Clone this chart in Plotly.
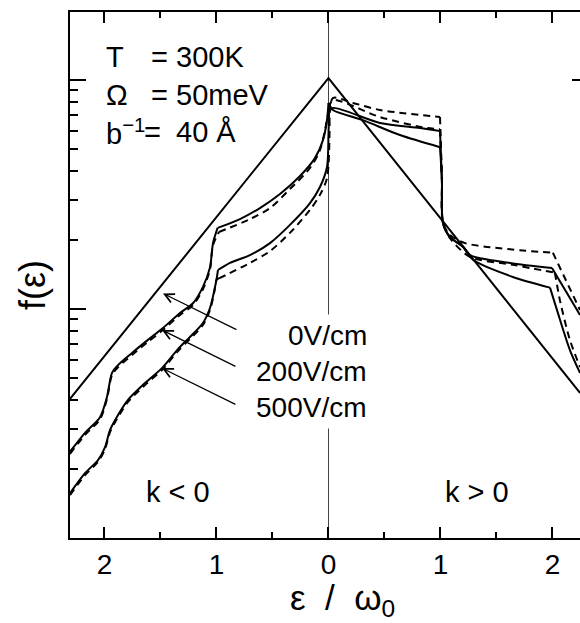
import math
import plotly.graph_objects as go

# ---------------- data ----------------
# 0 V/cm : symmetric exponential (straight in log scale)
eps_0 = [-2.308, 0.0, 2.246]
f_0 = [0.0405, 1.02, 0.0430]

# 200 V/cm solid
eps_200 = [-2.308, -2.174, -2.040, -1.978, -1.933, -1.879, -1.754, -1.612, -1.478,
           -1.326, -1.210, -1.121, -1.058, -1.031, -0.990,
           -0.790, -0.612, -0.433, -0.254, -0.121, -0.049, -0.013, 0.0,
           0.040, 0.308, 0.638, 0.996, 1.013, 1.022, 1.085, 1.201, 1.290,
           1.647, 1.978, 2.040, 2.156, 2.246]
f_200 = [0.0238, 0.0288, 0.0337, 0.0413, 0.0526, 0.0569, 0.0643, 0.0733, 0.0826,
         0.0961, 0.106, 0.125, 0.152, 0.194, 0.226,
         0.247, 0.276, 0.318, 0.381, 0.456, 0.547, 0.669, 0.794,
         0.740, 0.668, 0.575, 0.509, 0.366, 0.238, 0.206, 0.187, 0.164,
         0.138, 0.124, 0.0991, 0.0662, 0.0526]
brk_200 = [14, 22, 26, 33]

# 200 V/cm dashed
eps_200d = [-2.308, -2.174, -2.040, -1.978, -1.933, -1.879, -1.754, -1.612, -1.478,
            -1.326, -1.210, -1.121, -1.058, -1.031, -0.978,
            -0.701, -0.522, -0.344, -0.165, -0.076, -0.022, 0.004,
            0.040, 0.460, 0.879, 0.996, 1.013, 1.022, 1.085, 1.263, 1.647,
            2.022, 2.067, 2.156, 2.246]
f_200d = [0.0233, 0.0282, 0.0330, 0.0405, 0.0515, 0.0557, 0.0630, 0.0718, 0.0809,
          0.0942, 0.104, 0.122, 0.149, 0.190, 0.217,
          0.247, 0.276, 0.334, 0.413, 0.494, 0.636, 0.755,
          0.818, 0.689, 0.617, 0.611, 0.366, 0.238, 0.204, 0.169, 0.156,
          0.144, 0.109, 0.0733, 0.0558]
brk_200d = [14, 21, 25, 31]

# 500 V/cm solid
eps_500 = [-2.308, -2.174, -2.058, -1.996, -1.951, -1.906, -1.790, -1.638, -1.487,
           -1.344, -1.237, -1.121, -1.058, -1.022, -0.996, -0.987,
           -0.879, -0.701, -0.522, -0.344, -0.165, -0.076, -0.013, 0.0, 0.005,
           0.040, 0.460, 0.817, 0.996, 1.013, 1.022, 1.085, 1.201, 1.263,
           1.620, 1.996, 2.246]
f_500 = [0.0157, 0.0192, 0.0219, 0.0249, 0.0296, 0.0327, 0.0401, 0.0475, 0.0552,
         0.0668, 0.0755, 0.0869, 0.101, 0.119, 0.138, 0.148,
         0.159, 0.172, 0.194, 0.233, 0.290, 0.341, 0.417, 0.575, 0.724,
         0.755, 0.649, 0.617, 0.599, 0.366, 0.238, 0.206, 0.187, 0.172,
         0.159, 0.151, 0.0942]
brk_500 = [15, 24, 28, 35]

# 500 V/cm dashed
eps_500d = [-2.308, -2.174, -2.058, -1.996, -1.951, -1.906, -1.790, -1.638, -1.487,
            -1.344, -1.237, -1.121, -1.058, -1.022, -0.996, -0.978,
            -0.701, -0.522, -0.344, -0.165, -0.076, -0.013, 0.010,
            0.040, 0.219, 0.460, 0.996, 1.013, 1.022, 1.085, 1.219, 2.004, 2.246]
f_500d = [0.0154, 0.0188, 0.0215, 0.0244, 0.0290, 0.0320, 0.0393, 0.0466, 0.0541,
          0.0655, 0.0740, 0.0852, 0.099, 0.117, 0.135, 0.136,
          0.159, 0.179, 0.215, 0.271, 0.315, 0.373, 0.636,
          0.834, 0.794, 0.740, 0.689, 0.366, 0.238, 0.211, 0.194, 0.176, 0.099]
brk_500d = [15, 22, 26, 31]

x_tickvals = [-2, -1, 0, 1, 2]
x_ticktext = ["2", "1", "0", "1", "2"]
x_minor = [-1.5, -0.5, 0.5, 1.5]
y_major = [0.01, 0.1, 1]
y_minor = [m * d for d in (0.01, 0.1, 1) for m in range(2, 10)]

field_labels = ["0V/cm", "200V/cm", "500V/cm"]
# arrow tips (eps, f) on the curves
arrow_eps = [-1.478, -1.487, -1.487]
arrow_f = [0.117, 0.0809, 0.0552]

FONT = "Liberation Sans, Arial, Helvetica, sans-serif"

fig = go.Figure()
solid = dict(color="black", width=2, shape="spline", smoothing=0.8)
dashed = dict(color="black", width=2, dash="7px,5px", shape="spline", smoothing=0.8)


def add_segments(xs, ys, breaks, line):
    idx = [0] + breaks + [len(xs) - 1]
    for a, b in zip(idx[:-1], idx[1:]):
        fig.add_trace(go.Scatter(x=xs[a:b + 1], y=ys[a:b + 1], mode="lines",
                                 line=line, showlegend=False, hoverinfo="skip"))


add_segments(eps_200d, f_200d, brk_200d, dashed)
add_segments(eps_500d, f_500d, brk_500d, dashed)
fig.add_trace(go.Scatter(x=eps_0, y=f_0, mode="lines",
                         line=dict(color="black", width=2), showlegend=False))
add_segments(eps_200, f_200, brk_200, solid)
add_segments(eps_500, f_500, brk_500, solid)
fig.add_trace(go.Scatter(x=[None], y=[None], yaxis="y2", showlegend=False))

fig.update_layout(
    width=580, height=623,
    margin=dict(l=70, r=0, t=12, b=85),
    paper_bgcolor="white", plot_bgcolor="white",
    font=dict(family=FONT, color="black", size=28),
    xaxis=dict(range=[-2.308, 2.246], showgrid=False,
               zeroline=True, zerolinecolor="#444", zerolinewidth=1.2,
               showline=True, linecolor="black", linewidth=2, mirror="ticks",
               ticks="inside", ticklen=11, tickwidth=2, tickcolor="black",
               tickvals=x_tickvals, ticktext=x_ticktext,
               tickfont=dict(size=28, family=FONT),
               minor=dict(tickvals=x_minor, ticks="inside", ticklen=6, tickwidth=1.5, tickcolor="black")),
    yaxis=dict(type="log", range=[-2.0, 0.297], showgrid=False, zeroline=False,
               showline=True, linecolor="black", linewidth=2, mirror=False,
               ticks="inside", ticklen=16, tickwidth=2, tickcolor="black",
               tickvals=y_major, showticklabels=False,
               minor=dict(tickvals=y_minor, ticks="inside", ticklen=8, tickwidth=1.5, tickcolor="black")),
    yaxis2=dict(type="log", range=[-2.0, 0.297], overlaying="y", side="right",
                showgrid=False, zeroline=False, showline=False,
                ticks="inside", ticklen=8, tickwidth=2, tickcolor="black",
                tickvals=[1], showticklabels=False),
)


def pap_x(px):
    return (px - 70) / 510


def pap_y(py):
    return (538 - py) / 526


ann = []
# parameter block
rows = [("T", "=", "300K", 57, 149), ("Ω", "=", "50meV", 95, 149),
        ("b<sup>−1</sup>", "=", "40 Å", 132, 142)]
for sym, eq, val, py, eqx in rows:
    ann.append(dict(text=sym, x=pap_x(104), y=pap_y(py), xref="paper", yref="paper",
                    xanchor="left", yanchor="middle", showarrow=False, font=dict(size=29)))
    ann.append(dict(text=eq, x=pap_x(eqx), y=pap_y(py), xref="paper", yref="paper",
                    xanchor="left", yanchor="middle", showarrow=False, font=dict(size=29)))
    ann.append(dict(text=val, x=pap_x(174), y=pap_y(py), xref="paper", yref="paper",
                    xanchor="left", yanchor="middle", showarrow=False, font=dict(size=29)))

# field labels (white background masks the zero line)
for lab, py in zip(field_labels, [335, 371, 407]):
    ann.append(dict(text=lab, x=pap_x(373), y=pap_y(py), xref="paper", yref="paper",
                    xanchor="right", yanchor="middle", showarrow=False,
                    bgcolor="white", borderpad=5, font=dict(size=28)))

# arrows (annotation y on a log axis is given as log10)
for ex, fy in zip(arrow_eps, arrow_f):
    ann.append(dict(text="", x=ex, y=math.log10(fy), xref="x", yref="y", showarrow=True,
                    ax=75, ay=37, arrowhead=5, arrowsize=1.4, arrowwidth=1.3,
                    arrowcolor="black", standoff=0))

ann.append(dict(text="k < 0", x=pap_x(178), y=pap_y(492), xref="paper", yref="paper",
                xanchor="center", yanchor="middle", showarrow=False, font=dict(size=29)))
ann.append(dict(text="k > 0", x=pap_x(477), y=pap_y(492), xref="paper", yref="paper",
                xanchor="center", yanchor="middle", showarrow=False, font=dict(size=29)))

# axis titles
ann.append(dict(text="ε  /  ω<sub>0</sub>", x=pap_x(342), y=pap_y(600), xref="paper", yref="paper",
                xanchor="center", yanchor="middle", showarrow=False, font=dict(size=35)))
ann.append(dict(text="f(ε)", x=pap_x(32), y=pap_y(285), xref="paper", yref="paper",
                xanchor="center", yanchor="middle", showarrow=False, textangle=-90,
                font=dict(size=36)))

fig.update_layout(annotations=ann)
fig.write_html("out.html")
